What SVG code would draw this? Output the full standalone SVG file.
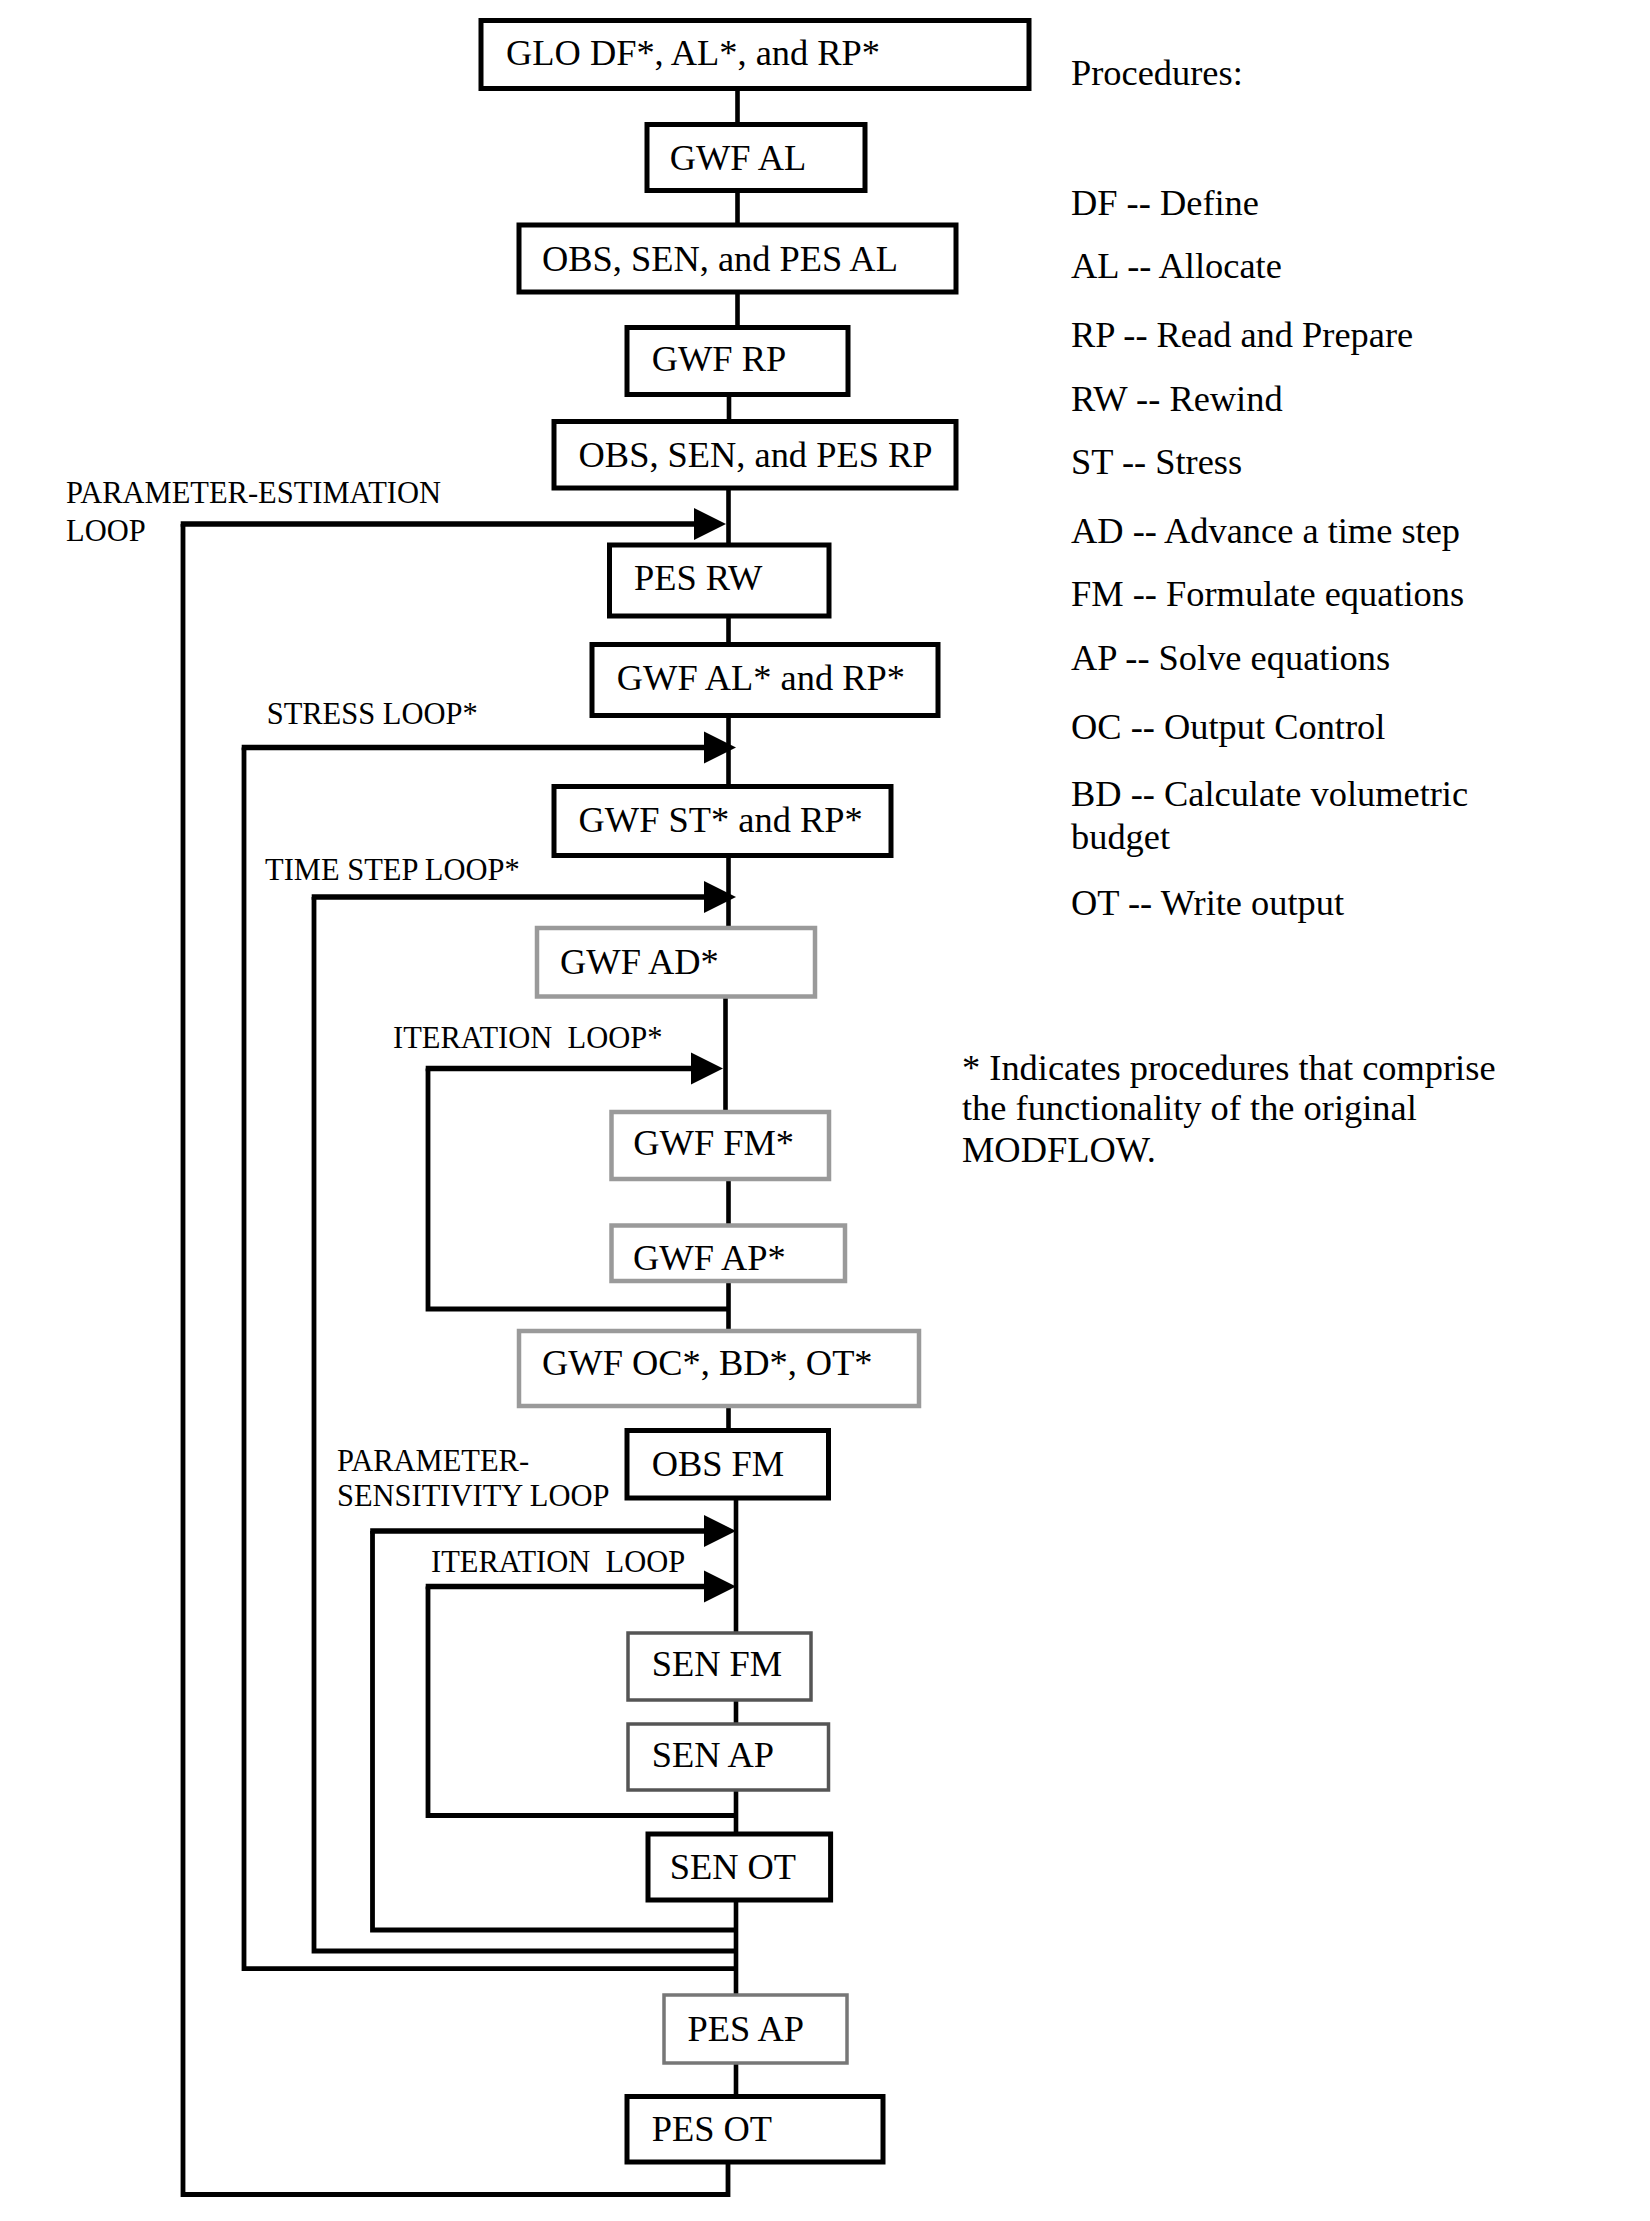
<svg xmlns="http://www.w3.org/2000/svg" width="1650" height="2221" viewBox="0 0 1650 2221">
<style>
text{font-family:"Liberation Serif","Times New Roman",serif;fill:#000;white-space:pre}
.t{font-size:36.4px}
.lb{font-size:30.5px}
.bk{fill:#fff;stroke:#000;stroke-width:5}
.gy{fill:#fff;stroke:#9a9a9a;stroke-width:4.5}
.dk{fill:#fff;stroke:#555;stroke-width:3.5}
.cn{fill:none;stroke:#000;stroke-width:4.6}
.lp{fill:none;stroke:#000;stroke-width:4.8}
.lt{fill:none;stroke:#000;stroke-width:5.6}
</style>
<defs>
<path id="ah" d="M0,-16 L32,0 L0,16 Z" fill="#000"/>
</defs>
<rect width="1650" height="2221" fill="#fff"/>
<g id="connectors">
<path class="cn" d="M737.5,88 V125 M737.5,190 V225 M737.5,292 V328 M729,394 V422 M728.5,488 V545 M728.5,616 V645 M728.5,715 V787 M728.5,855 V928 M725.5,996 V1112 M728.5,1179 V1226 M728.5,1281 V1331 M728.5,1406 V1431 M736,1498 V1633 M736,1700 V1724 M736,1790 V1834 M736,1900 V1995 M736,2063 V2097"/>
<path class="lp" d="M728,2162 V2194.5 H183 V524"/>
<path class="lt" d="M180.7,524 H696"/>
<use href="#ah" x="694" y="524"/>
<path class="lp" d="M736,1968.7 H244 V747.5"/>
<path class="lt" d="M241.7,747.5 H706"/>
<use href="#ah" x="704" y="747.5"/>
<path class="lp" d="M736,1951 H314 V897"/>
<path class="lt" d="M311.7,897 H706"/>
<use href="#ah" x="704" y="897"/>
<path class="lp" d="M728.5,1309 H428 V1068.5"/>
<path class="lt" d="M425.7,1068.5 H692"/>
<use href="#ah" x="691" y="1068.5"/>
<path class="lp" d="M736,1930 H372.5 V1531"/>
<path class="lt" d="M370.2,1531 H706"/>
<use href="#ah" x="704" y="1531"/>
<path class="lp" d="M736,1815.5 H428 V1586.5"/>
<path class="lt" d="M425.7,1586.5 H706"/>
<use href="#ah" x="704" y="1586.5"/>
</g>
<g id="loop-labels">
<text class="lb" x="66" y="502.7">PARAMETER-ESTIMATION</text>
<text class="lb" x="66" y="540.7">LOOP</text>
<text class="lb" x="266.7" y="724">STRESS LOOP*</text>
<text class="lb" x="265" y="879.6">TIME STEP LOOP*</text>
<text class="lb" x="393" y="1048">ITERATION  LOOP*</text>
<text class="lb" x="337" y="1471">PARAMETER-</text>
<text class="lb" x="337" y="1505.8">SENSITIVITY LOOP</text>
<text class="lb" x="431" y="1571.6">ITERATION  LOOP</text>
</g>
<g id="n-glo"><rect class="bk" x="481" y="20.5" width="548" height="68"/><text class="t" x="506" y="65">GLO DF*, AL*, and RP*</text></g>
<g id="n-gwf-al"><rect class="bk" x="647" y="124.5" width="218" height="66"/><text class="t" x="669.7" y="170">GWF AL</text></g>
<g id="n-obs-al"><rect class="bk" x="519" y="225" width="437" height="67"/><text class="t" x="542" y="271">OBS, SEN, and PES AL</text></g>
<g id="n-gwf-rp"><rect class="bk" x="627" y="327.5" width="221" height="67"/><text class="t" x="651.7" y="370.5">GWF RP</text></g>
<g id="n-obs-rp"><rect class="bk" x="554" y="421.5" width="402" height="66.5"/><text class="t" x="578.6" y="467">OBS, SEN, and PES RP</text></g>
<g id="n-pes-rw"><rect class="bk" x="609.5" y="545" width="219.5" height="71"/><text class="t" x="634" y="590">PES RW</text></g>
<g id="n-gwf-alrp"><rect class="bk" x="592" y="644.5" width="346" height="71"/><text class="t" x="616.8" y="690">GWF AL* and RP*</text></g>
<g id="n-gwf-st"><rect class="bk" x="554" y="786.5" width="337" height="69"/><text class="t" x="578.6" y="832">GWF ST* and RP*</text></g>
<g id="n-gwf-ad"><rect class="gy" x="537" y="928" width="278" height="68.5"/><text class="t" x="560" y="973.6">GWF AD*</text></g>
<g id="n-gwf-fm"><rect class="gy" x="611.5" y="1112" width="217.5" height="67"/><text class="t" x="633.3" y="1155">GWF FM*</text></g>
<g id="n-gwf-ap"><rect class="gy" x="611.5" y="1225.5" width="233.5" height="55.5"/><text class="t" x="633" y="1269.5">GWF AP*</text></g>
<g id="n-gwf-oc"><rect class="gy" x="519" y="1331" width="400" height="75"/><text class="t" x="542" y="1374.7">GWF OC*, BD*, OT*</text></g>
<g id="n-obs-fm"><rect class="bk" x="627" y="1430.5" width="201.5" height="67.5"/><text class="t" x="651.7" y="1476">OBS FM</text></g>
<g id="n-sen-fm"><rect class="dk" x="628" y="1633" width="183" height="67"/><text class="t" x="651.7" y="1675.8">SEN FM</text></g>
<g id="n-sen-ap"><rect class="dk" x="628" y="1724" width="200.5" height="66"/><text class="t" x="651.7" y="1767">SEN AP</text></g>
<g id="n-sen-ot"><rect class="bk" x="648" y="1834" width="182.6" height="66"/><text class="t" x="669.7" y="1878.8">SEN OT</text></g>
<g id="n-pes-ap"><rect class="dk" x="664" y="1995" width="183" height="68" style="stroke:#777"/><text class="t" x="687.6" y="2040.6">PES AP</text></g>
<g id="n-pes-ot"><rect class="bk" x="627" y="2096.5" width="256" height="65.5"/><text class="t" x="651.7" y="2140.7">PES OT</text></g>
<g id="legend">
<text class="t" x="1071" y="85">Procedures:</text>
<text class="t" x="1071" y="214.7">DF -- Define</text>
<text class="t" x="1071" y="278.4">AL -- Allocate</text>
<text class="t" x="1071" y="347">RP -- Read and Prepare</text>
<text class="t" x="1071" y="410.6">RW -- Rewind</text>
<text class="t" x="1071" y="474">ST -- Stress</text>
<text class="t" x="1071" y="542.7">AD -- Advance a time step</text>
<text class="t" x="1071" y="606.4">FM -- Formulate equations</text>
<text class="t" x="1071" y="670">AP -- Solve equations</text>
<text class="t" x="1071" y="738.6">OC -- Output Control</text>
<text class="t" x="1071" y="806">BD -- Calculate volumetric</text>
<text class="t" x="1071" y="848.5">budget</text>
<text class="t" x="1071" y="914.6">OT -- Write output</text>
</g>
<g id="footnote">
<text class="t" x="962" y="1079.8">* Indicates procedures that comprise</text>
<text class="t" x="962" y="1120">the functionality of the original</text>
<text class="t" x="962" y="1162">MODFLOW.</text>
</g>
</svg>
